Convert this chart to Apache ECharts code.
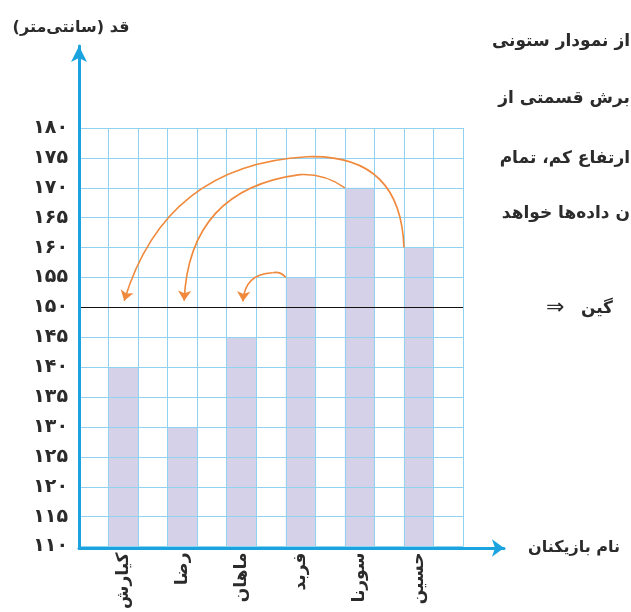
<!DOCTYPE html>
<html lang="fa">
<head>
    <meta charset="UTF-8">
    <title>قد بازیکنان</title>
    <script src="https://cdn.jsdelivr.net/npm/echarts@6.0.0/dist/echarts.min.js"></script>
    <style>
        html, body { margin: 0; padding: 0; background: #fff; }
    </style>
</head>
<body>
<div id="chart1" style="width: 631px;height:612px;"></div>

<script>
    // players and their heights (cm)
    var players = ['کیارش', 'رضا', 'ماهان', 'فربد', 'سورنا', 'حسین'];
    var heights = [140, 130, 145, 155, 170, 160];
    var meanHeight = 150;

    // height axis ticks
    var yMin = 110, yMax = 180, yStep = 5;
    var persianDigits = ['۰', '۱', '۲', '۳', '۴', '۵', '۶', '۷', '۸', '۹'];

    // curved arrows in (column slot, height): start -> top of the arc -> arrow tip
    var arrowStart = [[11, 160], [9, 170], [7, 155]];
    var arrowTop = [[7.72, 175.2], [7.48, 172.2], [6.55, 155.8]];
    var arrowEnd = [[1.53, 151.1], [3.56, 151.1], [5.55, 151.0]];
    var riseCurve = [-0.5, -0.17, -0.3];
    var fallCurve = [-0.35, -0.42, -0.45];

    // text beside the chart (cut off by the page)
    var sideText = ['از نمودار ستونی', 'برش قسمتی از', 'ارتفاع کم، تمام', 'ن داده‌ها خواهد'];
    var meanText = 'گین';

    var RLM = '\u200F';
    var font = 'DejaVu Sans';

    function toFa(n) {
        return String(n).replace(/\d/g, function (d) { return persianDigits[+d]; });
    }

    // 13 columns: a bar in every other one
    var slotLabels = [], slotValues = [];
    for (var i = 0; i < players.length * 2 + 1; i++) {
        if (i % 2 === 1) {
            slotLabels.push(players[(i - 1) / 2]);
            slotValues.push(heights[(i - 1) / 2]);
        } else {
            slotLabels.push('');
            slotValues.push(null);
        }
    }

    var riseData = arrowStart.map(function (p, k) {
        return { coords: [p, arrowTop[k]], lineStyle: { curveness: riseCurve[k] } };
    });
    var fallData = arrowTop.map(function (p, k) {
        return { coords: [p, arrowEnd[k]], lineStyle: { curveness: fallCurve[k] } };
    });

    var gridColor = '#8fd3f1';
    var axisColor = '#1aa3df';
    var textColor = '#2b2b2b';
    var arrowColor = '#f0893c';

    var chart = echarts.init(document.getElementById('chart1'));
    var option = {
        backgroundColor: '#fff',
        animation: false,
        textStyle: { fontFamily: font },
        grid: [
            { left: 79, right: 168, top: 128, bottom: 64 },
            { left: 79, right: 127, top: 46, bottom: 64 }
        ],
        xAxis: [
            {
                type: 'category',
                gridIndex: 0,
                data: slotLabels,
                z: 3,
                axisLine: { show: false },
                axisTick: { show: false },
                splitLine: { show: true, interval: 0, lineStyle: { color: gridColor, width: 1 } },
                axisLabel: {
                    interval: 0, rotate: 90, margin: 6,
                    fontSize: 17, fontWeight: 'bold', color: textColor, fontFamily: font
                }
            },
            {
                type: 'value', gridIndex: 0, min: 0, max: slotLabels.length, show: false
            },
            {
                type: 'value', gridIndex: 1, min: 0, max: 1, z: 6,
                name: 'نام بازیکنان',
                nameLocation: 'end',
                nameGap: 24,
                nameTextStyle: { fontSize: 16, fontWeight: 'bold', color: textColor, fontFamily: font },
                axisLine: {
                    show: true, onZero: false,
                    symbol: ['none', 'arrow'], symbolSize: [13, 12],
                    lineStyle: { color: axisColor, width: 3 }
                },
                axisTick: { show: false },
                axisLabel: { show: false },
                splitLine: { show: false }
            }
        ],
        yAxis: [
            {
                type: 'value', gridIndex: 0, min: yMin, max: yMax, interval: yStep, z: 3,
                axisLine: { show: false },
                axisTick: { show: false },
                splitLine: { show: true, lineStyle: { color: gridColor, width: 1 } },
                axisLabel: {
                    margin: 11, fontSize: 19, fontWeight: 'bold', color: textColor, fontFamily: font,
                    formatter: function (v) { return toFa(v); }
                }
            },
            {
                type: 'value', gridIndex: 1, min: 0, max: 1, z: 6,
                name: 'قد (سانتی‌متر)' + RLM,
                nameLocation: 'end',
                nameGap: 10,
                nameTextStyle: {
                    fontSize: 16, fontWeight: 'bold', color: textColor, fontFamily: font,
                    align: 'center', padding: [0, 16, 0, 0]
                },
                axisLine: {
                    show: true, onZero: false,
                    symbol: ['none', 'arrow'], symbolSize: [12, 16],
                    lineStyle: { color: axisColor, width: 3 }
                },
                axisTick: { show: false },
                axisLabel: { show: false },
                splitLine: { show: false }
            }
        ],
        series: [
            {
                type: 'bar',
                xAxisIndex: 0,
                yAxisIndex: 0,
                data: slotValues,
                barWidth: '100%',
                z: 2,
                itemStyle: { color: '#d5d1e9' },
                silent: true
            },
            {
                type: 'lines',
                coordinateSystem: 'cartesian2d',
                xAxisIndex: 1,
                yAxisIndex: 0,
                z: 6,
                silent: true,
                symbol: 'none',
                lineStyle: { color: arrowColor, width: 1.6, opacity: 1 },
                data: riseData
            },
            {
                type: 'lines',
                coordinateSystem: 'cartesian2d',
                xAxisIndex: 1,
                yAxisIndex: 0,
                z: 6,
                silent: true,
                symbol: ['none', 'arrow'],
                symbolSize: 10,
                lineStyle: { color: arrowColor, width: 1.6, opacity: 1 },
                data: fallData,
                markLine: {
                    silent: true,
                    symbol: 'none',
                    label: { show: false },
                    lineStyle: { color: '#111', width: 1, type: 'solid' },
                    data: [{ yAxis: meanHeight }]
                }
            }
        ],
        graphic: sideText.map(function (t, k) {
            return {
                type: 'text',
                right: 1,
                top: [33, 90, 150, 205][k],
                z: 10,
                style: {
                    text: t + RLM, fill: textColor,
                    font: 'bold 17px "' + font + '"'
                }
            };
        }).concat([{
            type: 'text',
            right: 18,
            top: 300,
            z: 10,
            style: { text: meanText, fill: textColor, font: 'bold 17px "' + font + '"' }
        }, {
            type: 'text',
            left: 546,
            top: 297,
            z: 10,
            style: { text: '⇒', fill: textColor, font: '22px "' + font + '"' }
        }])
    };
    chart.setOption(option);
</script>
</body>
</html>
